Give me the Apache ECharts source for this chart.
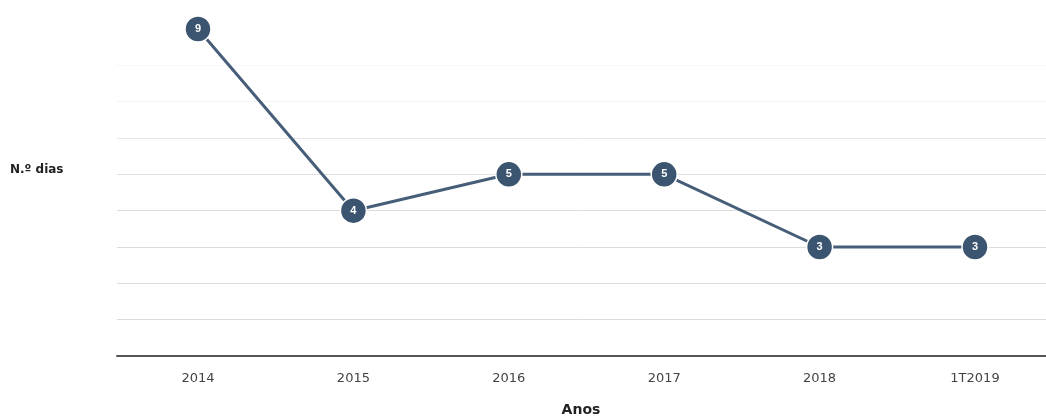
<!DOCTYPE html>
<html>
<head>
<meta charset="utf-8">
<script src="https://cdn.jsdelivr.net/npm/echarts@6/dist/echarts.min.js"></script>
<style>
html,body{margin:0;padding:0;background:#fff;}
#chart{width:1046px;height:419px;}
</style>
</head>
<body>
<div id="chart"></div>
<script>
const categories = ['2014', '2015', '2016', '2017', '2018', '1T2019'];
const values = [9, 4, 5, 5, 3, 3];
const yAxisTitle = 'N.º dias';
const xAxisTitle = 'Anos';

const FONT = 'DejaVu Sans, Liberation Sans, Arial, sans-serif';
const chart = echarts.init(document.getElementById('chart'));
chart.setOption({
  backgroundColor: '#ffffff',
  animation: false,
  textStyle: { fontFamily: FONT },
  grid: [
    { left: 117, right: 0, top: 29, bottom: 63, containLabel: false, outerBoundsMode: 'none' },
    { left: 198, right: 71, top: 29, bottom: 63, containLabel: false, outerBoundsMode: 'none' }
  ],
  xAxis: [{
    gridIndex: 0,
    type: 'category',
    data: categories,
    axisLine: { lineStyle: { color: '#555', width: 2 } },
    axisTick: { show: false },
    axisLabel: { show: false },
    splitLine: { show: false }
  }, {
    gridIndex: 1,
    type: 'category',
    data: categories,
    boundaryGap: false,
    axisLine: { show: false },
    axisTick: { show: false },
    axisLabel: { color: '#444', fontSize: 13, margin: 16, fontFamily: FONT },
    splitLine: { show: false },
    name: xAxisTitle,
    nameLocation: 'middle',
    nameGap: 47,
    nameTextStyle: { color: '#222', fontSize: 14, fontWeight: 'bold', fontFamily: FONT, padding: [0, 11, 0, 0] }
  }],
  yAxis: [{
    gridIndex: 0,
    type: 'value',
    min: 0,
    max: 9,
    interval: 1,
    axisLine: { show: false },
    axisTick: { show: false },
    axisLabel: { show: false },
    splitLine: {
      lineStyle: {
        color: ['#ffffff', '#dcdcdc', '#dcdcdc', '#dcdcdc', '#dcdcdc', '#e0e0e0', '#e6e6e6', '#f4f4f4', '#f7f7f7', '#ffffff'],
        width: 1
      }
    }
  }, {
    gridIndex: 1,
    type: 'value',
    min: 0,
    max: 9,
    interval: 1,
    axisLine: { show: false },
    axisTick: { show: false },
    axisLabel: { show: false },
    splitLine: { show: false }
  }],
  graphic: [{
    type: 'text',
    left: 10,
    top: 164,
    style: { text: yAxisTitle, fill: '#222', font: 'bold 12px DejaVu Sans, Liberation Sans, Arial, sans-serif' }
  }],
  series: [{
    type: 'line',
    xAxisIndex: 1,
    yAxisIndex: 1,
    data: values,
    symbol: 'circle',
    symbolSize: 26,
    itemStyle: { color: '#3b546f', borderColor: '#ffffff', borderWidth: 1.5 },
    lineStyle: { color: '#475e78', width: 3 },
    label: {
      show: true,
      position: 'inside',
      color: '#ffffff',
      fontSize: 11,
      fontWeight: 'bold',
      fontFamily: 'Liberation Sans, Arial, sans-serif'
    },
    z: 3
  }]
});
</script>
</body>
</html>
